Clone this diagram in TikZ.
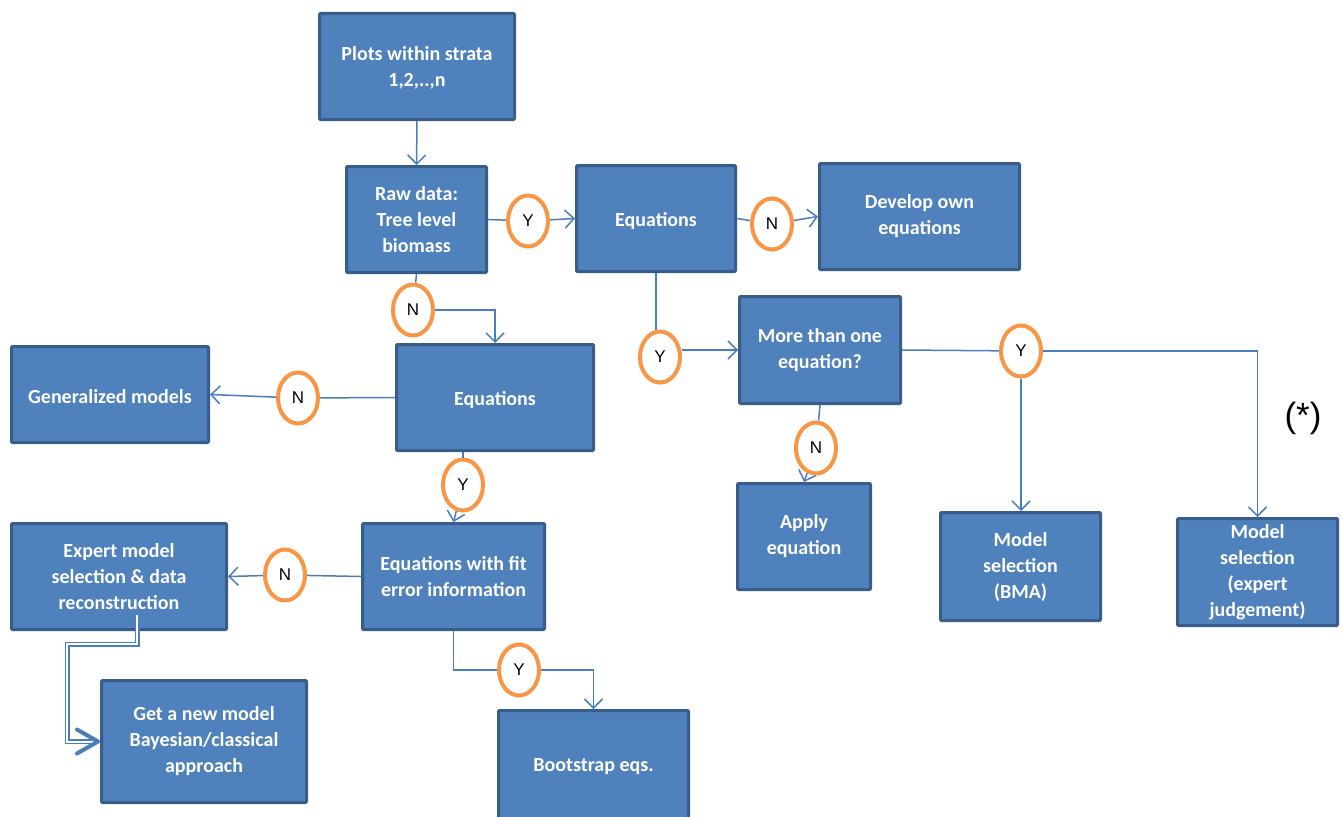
\documentclass[tikz,border=0pt]{standalone}
\usepackage{fontspec}
\setmainfont{Carlito}
\newfontfamily\arialf{Liberation Sans}
\usetikzlibrary{arrows.meta,shapes.geometric,calc}
\definecolor{boxfill}{HTML}{4F81BD}
\definecolor{boxline}{HTML}{385D8A}
\definecolor{lnc}{HTML}{4A7EBB}
\definecolor{orng}{HTML}{F79646}
\newcommand{\lowerby}[2]{\raisebox{-#1}[\height][\depth]{#2}}
\tikzset{
 box/.style={draw=boxline, fill=boxfill, line width=3pt, text=white, font=\bfseries\fontsize{20}{26}\selectfont, align=center, inner sep=0pt, rounded corners=1pt},
 yn/.style={ellipse, draw=orng, fill=white, line width=4pt, minimum width=40pt, minimum height=51pt, inner sep=0pt, font=\arialf\fontsize{17}{17}\selectfont},
 link/.style={draw=lnc, line width=1.5pt},
 arr/.style={link, -{Straight Barb[length=9pt,width=18pt]}},
 dbl/.style={draw=lnc, double=white, double distance=2pt, line width=1.5pt},
}
\begin{document}
\begin{tikzpicture}[x=1pt,y=-1pt]
\useasboundingbox (0,0) rectangle (1343,816);
% boxes
\node[box, minimum width=195, minimum height=106] (plots) at (417,66.5) {\lowerby{2pt}{\begin{tabular}{@{}c@{}}Plots within strata\\1,2,..,n\end{tabular}}};
\node[box, minimum width=140, minimum height=106] (raw) at (416.5,219.5) {Raw data:\\Tree level\\biomass};
\node[box, minimum width=159, minimum height=106] (eqtop) at (656,218.5) {\lowerby{3pt}{Equations}};
\node[box, minimum width=200, minimum height=106] (develop) at (919.5,216.5) {Develop own\\equations};
\node[box, minimum width=161, minimum height=107] (more) at (820,350) {More than one\\equation?};
\node[box, minimum width=197, minimum height=106] (eqmid) at (495,397.5) {\lowerby{3pt}{Equations}};
\node[box, minimum width=197, minimum height=96] (gen) at (110,394.5) {\lowerby{2pt}{Generalized models}};
\node[box, minimum width=182, minimum height=106] (eqfit) at (453.5,576.5) {Equations with fit\\error information};
\node[box, minimum width=215, minimum height=106] (expert) at (119,576.5) {Expert model\\selection \& data\\reconstruction};
\node[box, minimum width=205, minimum height=122] (getnew) at (204,741.5) {Get a new model\\Bayesian/classical\\approach};
\node[box, minimum width=190, minimum height=109] (boot) at (593.5,765) {\lowerby{2pt}{Bootstrap eqs.}};
\node[box, minimum width=133, minimum height=106] (apply) at (804,536.5) {Apply\\equation};
\node[box, minimum width=160, minimum height=108] (bma) at (1020.5,566.5) {Model\\selection\\(BMA)};
\node[box, minimum width=160, minimum height=107] (mexp) at (1257.5,572) {Model\\selection\\(expert\\judgement)};
% decision circles
\node[yn] (cY1) at (528,221) {Y};
\node[yn] (cN1) at (772,224) {N};
\node[yn] (cN2) at (413,310) {N};
\node[yn] (cY2) at (660,357) {Y};
\node[yn] (cY3) at (1021,351) {Y};
\node[yn] (cN3) at (298,398) {N};
\node[yn] (cY4) at (463,485) {Y};
\node[yn] (cN4) at (816,448) {N};
\node[yn] (cN5) at (285,575) {N};
\node[yn] (cY5) at (519,670) {Y};
\node[font=\arialf\fontsize{35}{35}\selectfont] (star) at (1303,418) {(*)};
% connectors
\draw[arr] (plots) -- (raw);
\draw[link] (raw.east) -- (cY1);
\draw[arr] (cY1) -- (eqtop.west);
\draw[link] (eqtop.east) -- (cN1);
\draw[arr] (cN1) -- (develop.west);
\draw[link] (raw.south) -- (cN2);
\draw[arr] (cN2.east) -| (eqmid.north);
\draw[link] (eqtop.south) -- (eqtop.south |- cY2.north);
\draw[arr] (more.west -| cY2.east) -- (more.west);
\draw[link] (more.east) -- (cY3);
\draw[arr] (cY3) -| (mexp.north);
\draw[arr] (cY3.south) -- (cY3.south |- bma.north);
\draw[link] (more.south) -- (cN4);
\draw[arr] (cN4) -- (apply.north);
\draw[link] (eqmid.west) -- (cN3);
\draw[arr] (cN3) -- (gen.east);
\draw[link] (eqmid.south -| cY4) -- (cY4);
\draw[arr] (cY4) -- (eqfit.north);
\draw[link] (eqfit.west) -- (cN5);
\draw[arr] (cN5) -- (expert.east);
\draw[link] (eqfit.south) |- (cY5.west);
\draw[arr] (cY5.east) -| (boot.north);
% double connector
\coordinate (d1) at (67,644);
\draw[dbl] ([xshift=18pt,yshift=16pt]expert.south) |- (d1) |- ([xshift=-8pt]getnew.west);
\draw[lnc, line width=4pt, line cap=round, line join=round] ([xshift=-23pt,yshift=12pt]getnew.west) -- ([xshift=-2pt]getnew.west) -- ([xshift=-23pt,yshift=-12pt]getnew.west);
\end{tikzpicture}
\end{document}
